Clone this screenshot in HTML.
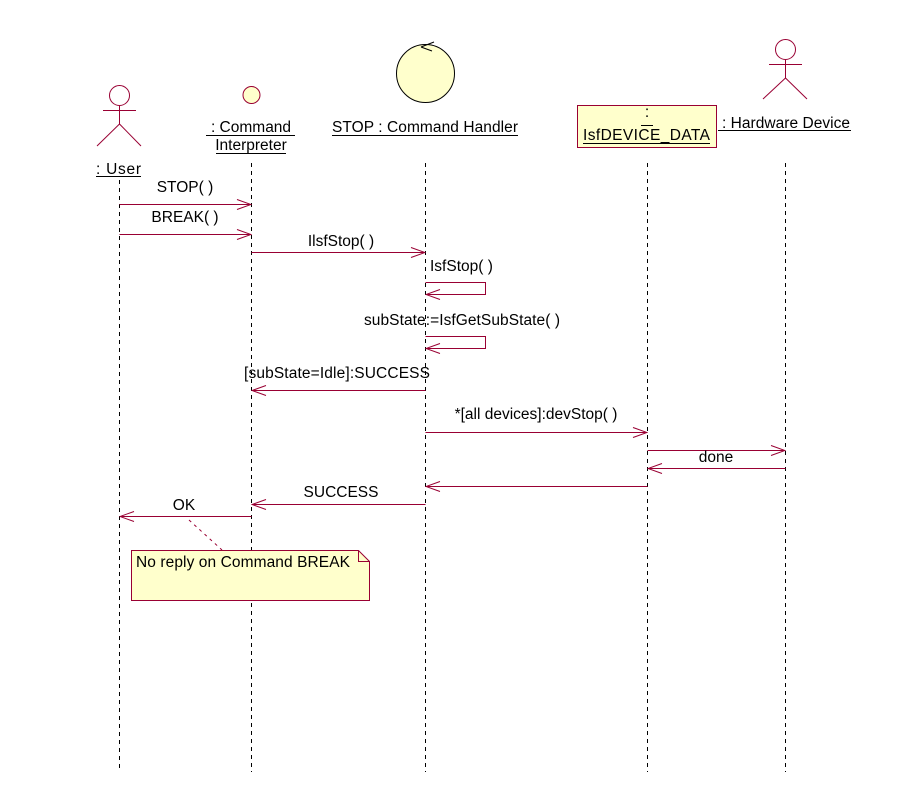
<!DOCTYPE html>
<html><head><meta charset="utf-8"><style>
html,body{margin:0;padding:0;background:#fff;}
svg{display:block;}
text{font-family:"Liberation Sans",sans-serif;font-size:15.5px;fill:#000;}
</style></head><body>
<svg width="898" height="807" viewBox="0 0 898 807" xmlns="http://www.w3.org/2000/svg">
<defs>
<marker id="a" markerWidth="16" markerHeight="12" refX="15" refY="6" orient="auto" markerUnits="userSpaceOnUse">
<path d="M1,1 L15,6 L1,11" fill="none" stroke="#990033" stroke-width="1"/>
</marker>
</defs>
<g stroke="#000" stroke-width="1" stroke-dasharray="4,4">
<line x1="119.5" y1="180" x2="119.5" y2="772"/>
<line x1="251.5" y1="163" x2="251.5" y2="772"/>
<line x1="425.5" y1="163" x2="425.5" y2="772"/>
<line x1="647.5" y1="163" x2="647.5" y2="772"/>
<line x1="785.5" y1="163" x2="785.5" y2="772"/>
</g>
<g stroke="#990033" fill="none" stroke-width="1">
<circle cx="119.5" cy="95.5" r="10"/>
<line x1="119.5" y1="106" x2="119.5" y2="124"/>
<line x1="103" y1="110.5" x2="136" y2="110.5"/>
<line x1="119.5" y1="124" x2="97" y2="146"/>
<line x1="119.5" y1="124" x2="141" y2="146"/>
<circle cx="785.5" cy="49.5" r="10"/>
<line x1="785.5" y1="60" x2="785.5" y2="78"/>
<line x1="769" y1="64.5" x2="802" y2="64.5"/>
<line x1="785.5" y1="78" x2="763" y2="99"/>
<line x1="785.5" y1="78" x2="807" y2="99"/>
</g>
<circle cx="251.5" cy="95" r="8.5" fill="#ffffcc" stroke="#990033"/>
<circle cx="425.5" cy="73.5" r="29" fill="#ffffcc" stroke="#000"/>
<path d="M421,47 L434,42 M421,47 L432,51" stroke="#000" fill="none"/>
<rect x="577.5" y="105.5" width="139" height="42" fill="#ffffcc" stroke="#990033"/>
<text x="96" y="174" textLength="45">: User</text><line x1="96" y1="176.5" x2="141" y2="176.5" stroke="#000"/>
<text x="251" y="132" text-anchor="middle">: Command</text><line x1="206" y1="135.5" x2="295" y2="135.5" stroke="#000"/>
<text x="251" y="150" text-anchor="middle">Interpreter</text><line x1="216" y1="153.5" x2="286" y2="153.5" stroke="#000"/>
<text x="332" y="132" textLength="186">STOP : Command Handler</text><line x1="332" y1="135.5" x2="518" y2="135.5" stroke="#000"/>
<text x="647" y="117" text-anchor="middle">:</text><line x1="641" y1="125.5" x2="653" y2="125.5" stroke="#000"/>
<text x="583" y="140" textLength="127">IsfDEVICE_DATA</text><line x1="583" y1="143.5" x2="710" y2="143.5" stroke="#000"/>
<text x="722" y="128" textLength="128">: Hardware Device</text><line x1="718" y1="130.5" x2="851" y2="130.5" stroke="#000"/>
<g stroke="#990033" stroke-width="1" fill="none">
<line x1="119.5" y1="204.5" x2="251" y2="204.5" marker-end="url(#a)"/>
<line x1="119.5" y1="234.5" x2="251" y2="234.5" marker-end="url(#a)"/>
<line x1="251.5" y1="252.5" x2="425" y2="252.5" marker-end="url(#a)"/>
<path d="M425.5,282.5 H485.5 V294.5 H426" marker-end="url(#a)"/>
<path d="M425.5,336.5 H485.5 V348.5 H426" marker-end="url(#a)"/>
<line x1="425.5" y1="390.5" x2="252" y2="390.5" marker-end="url(#a)"/>
<line x1="425.5" y1="432.5" x2="647" y2="432.5" marker-end="url(#a)"/>
<line x1="647.5" y1="450.5" x2="785" y2="450.5" marker-end="url(#a)"/>
<line x1="785.5" y1="468.5" x2="648" y2="468.5" marker-end="url(#a)"/>
<line x1="647.5" y1="486.5" x2="426" y2="486.5" marker-end="url(#a)"/>
<line x1="425.5" y1="504.5" x2="252" y2="504.5" marker-end="url(#a)"/>
<line x1="251.5" y1="516.5" x2="120" y2="516.5" marker-end="url(#a)"/>
<line x1="189" y1="520" x2="222" y2="550" stroke-dasharray="3,4"/>
</g>
<text x="185" y="192" text-anchor="middle">STOP( )</text>
<text x="185" y="222" text-anchor="middle">BREAK( )</text>
<text x="341" y="246" text-anchor="middle">IlsfStop( )</text>
<text x="430" y="271">IsfStop( )</text>
<text x="364" y="325" textLength="196">subState:=IsfGetSubState( )</text>
<text x="244" y="378" textLength="186">[subState=Idle]:SUCCESS</text>
<text x="536" y="419" text-anchor="middle">*[all devices]:devStop( )</text>
<text x="716" y="462" text-anchor="middle">done</text>
<text x="341" y="497" text-anchor="middle">SUCCESS</text>
<text x="184" y="510" text-anchor="middle">OK</text>
<path d="M131.5,550.5 H358.5 L369.5,561.5 V600.5 H131.5 Z" fill="#ffffcc" stroke="#990033"/>
<path d="M358.5,550.5 V561.5 H369.5" fill="none" stroke="#990033"/>
<text x="136" y="567" textLength="214">No reply on Command BREAK</text>
</svg>
</body></html>
